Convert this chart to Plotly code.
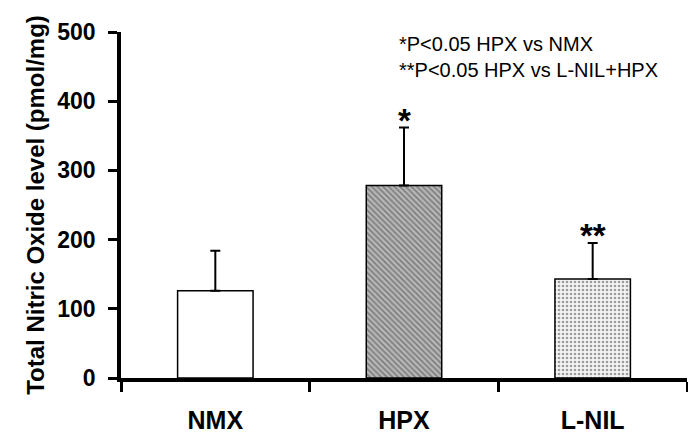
import plotly.graph_objects as go

categories = ["NMX", "HPX", "L-NIL"]
means = [126, 278, 143]
sem_up = [58, 84, 52]
sig_marks = ["", "*", "**"]
y_ticks = [0, 100, 200, 300, 400, 500]
note_lines = ["*P<0.05 HPX vs NMX", "**P<0.05 HPX vs L-NIL+HPX"]

FONT = "Arial, Liberation Sans, sans-serif"

fig = go.Figure()
fig.add_trace(go.Bar(
    x=categories, y=means, width=0.4,
    marker=dict(
        color=["white", "#b8b8b8", "#f4f4f4"],
        line=dict(color="black", width=1.5),
        pattern=dict(
            shape=["", "\\", "."],
            fgcolor=["black", "#4a4a4a", "#9a9a9a"],
            bgcolor=["white", "#c8c8c8", "#f4f4f4"],
            size=[4, 4, 4],
            solidity=[0.3, 0.45, 0.35],
            fillmode="overlay",
        ),
    ),
    error_y=dict(type="data", symmetric=False, array=sem_up,
                 arrayminus=[0] * len(sem_up), color="black",
                 thickness=2, width=5),
    showlegend=False,
))

for c, m, e, s in zip(categories, means, sem_up, sig_marks):
    if s:
        fig.add_annotation(x=c, y=m + e, text=s, showarrow=False,
                           yanchor="bottom", yshift=-13,
                           font=dict(family=FONT, size=33, color="black",
                                     weight="bold"))

fig.add_annotation(xref="paper", yref="paper", x=0.4876, y=1.003,
                   xanchor="left", yanchor="top", align="left",
                   text="<br>".join(note_lines), showarrow=False,
                   font=dict(family=FONT, size=20, color="black"))

# page body has an 8px margin, so the figure is sized to the remaining area
fig.update_layout(
    width=688, height=428,
    margin=dict(l=113, r=9, t=24, b=58, autoexpand=False),
    paper_bgcolor="white", plot_bgcolor="white",
    xaxis=dict(
        type="category", range=[-0.5, 2.5],
        showline=True, linecolor="black", linewidth=3.5,
        ticks="outside", tickson="boundaries", ticklen=10, tickwidth=3,
        tickcolor="black", showgrid=False,
        tickfont=dict(family=FONT, size=25, color="black", weight="bold"),
        ticklabelstandoff=17,
    ),
    yaxis=dict(
        range=[0, 500], tickvals=y_ticks,
        showline=True, linecolor="black", linewidth=3.5,
        ticks="outside", ticklen=9, tickwidth=3, tickcolor="black",
        showgrid=False, zeroline=False,
        tickfont=dict(family=FONT, size=23, color="black", weight="bold"),
        ticklabelstandoff=8,
        title=dict(text="Total Nitric Oxide level (pmol/mg)",
                   font=dict(family=FONT, size=24, color="black",
                             weight="bold"),
                   standoff=7),
    ),
)

fig.write_html("out.html")
